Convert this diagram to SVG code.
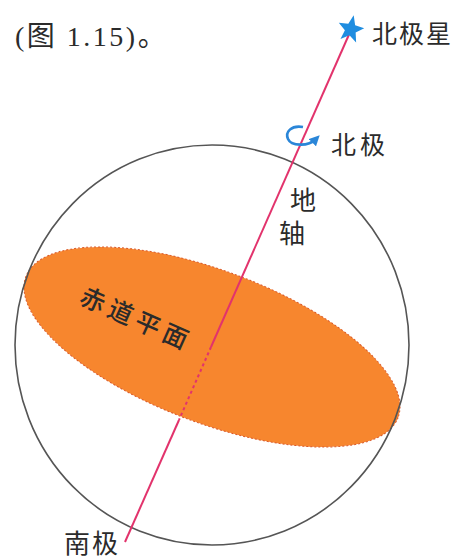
<svg xmlns="http://www.w3.org/2000/svg" width="457" height="560" viewBox="0 0 457 560">
  <style>
    .lbl { font-family: "Liberation Serif", "Noto Sans CJK SC", serif; fill: #2b2b2b; }
    .axis { stroke: #e2336c; stroke-width: 2; fill: none; }
  </style>
  <defs>
    <marker id="spin-head" viewBox="0 0 10 10" refX="5" refY="5" markerWidth="4" markerHeight="4" orient="auto">
      <path d="M0,0 L10,5 L0,10 Z" fill="#2a86d8"/>
    </marker>
  </defs>
  <rect width="457" height="560" fill="#ffffff"/>

  <!-- caption fragment -->
  <text class="lbl" x="15" y="46" font-size="28" letter-spacing="2.5">(图 1.15)。</text>

  <!-- equatorial plane -->
  <g id="equator-plane">
    <ellipse cx="212" cy="347" rx="199" ry="76" transform="rotate(20.75 212 347)" fill="#f7862e" stroke="#d9582a" stroke-width="1" stroke-dasharray="2 2"/>
    <text class="lbl" x="0" y="0" font-size="25" font-weight="500" letter-spacing="5" fill="#3a2416" transform="translate(78 303) rotate(24)">赤道平面</text>
  </g>

  <!-- celestial sphere outline -->
  <g id="sphere">
    <ellipse cx="212" cy="345" rx="197" ry="200" fill="none" stroke="#555555" stroke-width="1.6"/>
  </g>

  <!-- Earth's axis -->
  <g id="connectors">
    <line class="axis" x1="351" y1="30" x2="211" y2="347"/>
    <line class="axis" x1="211" y1="347" x2="179" y2="420" stroke-dasharray="3 3" stroke="#c8405a"/>
    <line class="axis" x1="179" y1="420" x2="125" y2="542"/>
  </g>

  <!-- Polaris -->
  <g id="polaris">
    <polygon points="351,15 354.5,24.5 364,25.5 356.5,31.5 359,41 351,35.5 343,41 345.5,31.5 338,25.5 347.5,24.5" fill="#1f8de0" transform="rotate(12 351 28)"/>
    <text class="lbl" x="372" y="43" font-size="25" letter-spacing="2">北极星</text>
  </g>

  <!-- north pole with rotation arrow -->
  <g id="north-pole">
    <path d="M303,127 C291,125 285,132 288,139 C291,146 308,147 316,139" fill="none" stroke="#2a86d8" stroke-width="2.6" marker-end="url(#spin-head)"/>
    <text class="lbl" x="331" y="154" font-size="25" letter-spacing="4">北极</text>
  </g>

  <!-- axis label, stacked -->
  <g id="axis-label">
    <text class="lbl" x="290" y="210" font-size="26">地</text>
    <text class="lbl" x="279" y="243" font-size="26">轴</text>
  </g>

  <!-- south pole -->
  <g id="south-pole">
    <text class="lbl" x="64" y="553" font-size="26" letter-spacing="2">南极</text>
  </g>
</svg>
